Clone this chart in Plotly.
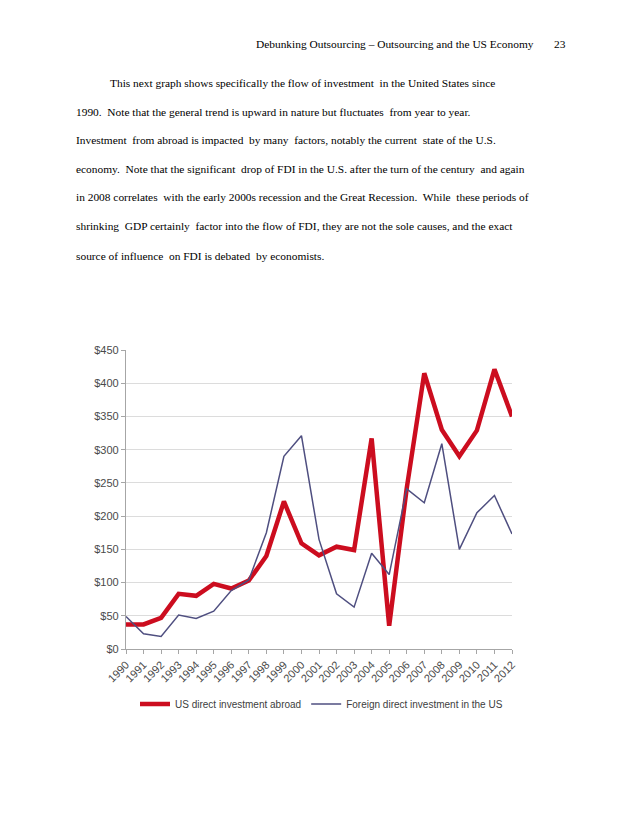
import plotly.graph_objects as go

years = [str(y) for y in range(1990, 2013)]
us_abroad = [37, 37, 47, 83, 80, 98, 91, 103, 140, 222, 159, 141, 154, 149,
             317, 35, 242, 415, 330, 290, 329, 421, 350]
fdi_in_us = [49, 23, 19, 51, 46, 57, 88, 104, 175, 290, 321, 165, 83, 63,
             144, 112, 241, 220, 309, 150, 205, 231, 173]
y_ticks = [0, 50, 100, 150, 200, 250, 300, 350, 400, 450]
y_tick_labels = ["$" + str(v) for v in y_ticks]

header = "Debunking Outsourcing \u2013 Outsourcing and the US Economy"
page_no = "23"
body_lines = [
    "This next graph shows specifically the flow of investment  in the United States since",
    "1990.  Note that the general trend is upward in nature but fluctuates  from year to year.",
    "Investment  from abroad is impacted  by many  factors, notably the current  state of the U.S.",
    "economy.  Note that the significant  drop of FDI in the U.S. after the turn of the century  and again",
    "in 2008 correlates  with the early 2000s recession and the Great Recession.  While  these periods of",
    "shrinking  GDP certainly  factor into the flow of FDI, they are not the sole causes, and the exact",
    "source of influence  on FDI is debated  by economists.",
]

# page body has an 8px margin; figure is sized so the page fills 638x826 exactly
OFF = 8
W, H = 638 - 2 * OFF, 826 - 2 * OFF
L, R, T, B = 126, 512, 350, 649  # plot area in page pixels
PW, PH = R - L, B - T


def px(x):
    return (x - L) / PW


def py(y):
    return (B - y) / PH


fig = go.Figure()
fig.add_trace(go.Scatter(x=years, y=us_abroad, mode="lines",
                         name="US direct investment abroad",
                         line=dict(color="#cc0d1f", width=4.5)))
fig.add_trace(go.Scatter(x=years, y=fdi_in_us, mode="lines",
                         name="Foreign direct investment in the US",
                         line=dict(color="#4f4f80", width=1.5)))

serif = "Liberation Serif, Times New Roman, serif"
sans = "Liberation Sans, Arial, sans-serif"
FS = 11.4

ann = []
ann.append(dict(text=header, x=px(254), y=py(44), xref="paper", yref="paper",
                xanchor="left", yanchor="middle", showarrow=False,
                font=dict(family=serif, size=FS, color="#000")))
ann.append(dict(text=page_no, x=px(552), y=py(44), xref="paper", yref="paper",
                xanchor="left", yanchor="middle", showarrow=False,
                font=dict(family=serif, size=FS, color="#000")))
line_y = [83, 112, 140, 169, 197, 226, 256]
for i, (t, yy) in enumerate(zip(body_lines, line_y)):
    x0 = 108 if i == 0 else 74
    ann.append(dict(text=t, x=px(x0), y=py(yy), xref="paper", yref="paper",
                    xanchor="left", yanchor="middle", showarrow=False,
                    font=dict(family=serif, size=FS, color="#000")))

fig.update_layout(
    width=W, height=H,
    margin=dict(l=L - OFF, r=(638 - OFF) - R, t=T - OFF, b=(826 - OFF) - B, pad=0),
    paper_bgcolor="white", plot_bgcolor="white",
    showlegend=True,
    legend=dict(orientation="h", x=px(135), y=py(704), xanchor="left",
                yanchor="middle", font=dict(family=sans, size=10, color="#404040"),
                bgcolor="rgba(0,0,0,0)", itemwidth=30),
    xaxis=dict(type="category", range=[0, 22], showgrid=False,
               showline=True, linecolor="#a6a6a6", linewidth=1.2,
               ticks="outside", ticklen=4, tickcolor="#a6a6a6",
               tickangle=-45, tickfont=dict(family=sans, size=11, color="#4a4a4a")),
    yaxis=dict(range=[0, 450], tickvals=y_ticks, ticktext=y_tick_labels,
               showgrid=True, gridcolor="#dcdcdc", gridwidth=1.2,
               showline=True, linecolor="#a6a6a6", linewidth=1.2,
               ticks="outside", ticklen=4, tickcolor="#a6a6a6", zeroline=False,
               tickfont=dict(family=sans, size=11, color="#4a4a4a")),
    annotations=ann,
)

fig.write_html("out.html")
